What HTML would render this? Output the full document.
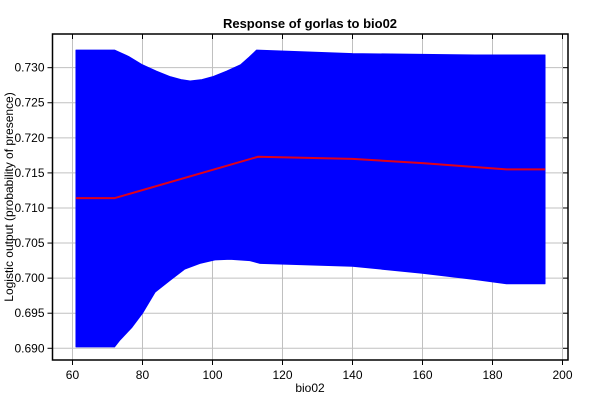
<!DOCTYPE html>
<html><head><meta charset="utf-8"><style>
body{margin:0;background:#fff;}
svg{display:block;font-family:"Liberation Sans",sans-serif;}
</style></head><body>
<svg id="chart" width="600" height="400">
<text x="310" y="28" text-anchor="middle" font-size="13" font-weight="bold">Response of gorlas to bio02</text>
<g id="grid"></g>
<g id="marks"></g>
<g id="axes"></g>
<text x="310" y="392" text-anchor="middle" font-size="12">bio02</text>
<text transform="translate(13,197) rotate(-90)" text-anchor="middle" font-size="12">Logistic output (probability of presence)</text>
</svg>
<script>
const upperX=[61,72,76,80,84,88,91,93.6,97,100,104,108,110.5,112.6,140,160,175,195];
const upperVals=[0.7325,0.7325,0.7316,0.7304,0.7295,0.7287,0.7283,0.7281,0.7283,0.7287,0.7295,0.7304,0.7315,0.7325,0.7320,0.7319,0.7318,0.7318];
const lowerX=[61,72,73.6,77,80,83.6,87.9,92.1,96.4,100.7,105,110.7,113.6,140,160,175,184,195];
const lowerVals=[0.6902,0.6902,0.6912,0.6930,0.6950,0.6980,0.6997,0.7013,0.7021,0.7026,0.7027,0.7025,0.7021,0.7017,0.7007,0.6998,0.6992,0.6992];
const meanX=[61,72,113,140,160,184,195];
const meanVals=[0.7114,0.7114,0.7173,0.7170,0.7164,0.7155,0.7155];
const xTicks=[60,80,100,120,140,160,180,200];
const yTicks=[0.690,0.695,0.700,0.705,0.710,0.715,0.720,0.725,0.730];
const L=52.5,R=568,T=34,B=360;
const xMin=54.29,xMax=201.57,yMin=0.68833,yMax=0.7348;
const sx=v=>L+(v-xMin)/(xMax-xMin)*(R-L);
const sy=v=>B-(v-yMin)/(yMax-yMin)*(B-T);
const NS="http://www.w3.org/2000/svg";
function mk(tag,attrs,parent){const e=document.createElementNS(NS,tag);for(const k in attrs)e.setAttribute(k,attrs[k]);parent.appendChild(e);return e;}
const grid=document.getElementById('grid'),marks=document.getElementById('marks'),axes=document.getElementById('axes');
xTicks.forEach(t=>{
 const x=sx(t);
 const g=mk('line',{x1:x,x2:x,y1:T,y2:B,stroke:'#c0c0c0','stroke-width':1},grid);
 
 
 mk('line',{x1:x,x2:x,y1:B,y2:B+5,stroke:'#000'},axes);
 mk('line',{x1:x,x2:x,y1:T,y2:T+5,stroke:'#000'},axes);
 const tx=mk('text',{x:x,y:B+19,'text-anchor':'middle','font-size':12},axes);
 tx.textContent=t;
 
 
});
yTicks.forEach(t=>{
 const y=sy(t);
 const g=mk('line',{x1:L,x2:R,y1:y,y2:y,stroke:'#c0c0c0','stroke-width':1},grid);
 
 
 mk('line',{x1:L-5,x2:L,y1:y,y2:y,stroke:'#000'},axes);
 mk('line',{x1:R-5,x2:R,y1:y,y2:y,stroke:'#000'},axes);
 const tx=mk('text',{x:L-8,y:y+4,'text-anchor':'end','font-size':12},axes);
 tx.textContent=t.toFixed(3);
 
 
});
let d='';
upperX.forEach((v,i)=>{d+=(i?'L':'M')+sx(v)+','+sy(upperVals[i]);});
for(let i=lowerX.length-1;i>=0;i--)d+='L'+sx(lowerX[i])+','+sy(lowerVals[i]);
const band=mk('path',{d:d+'Z',fill:'#0000ff',stroke:'#0000ff','stroke-width':1,'stroke-linejoin':'round'},marks);


const pts=meanX.map((v,i)=>sx(v)+','+sy(meanVals[i])).join(' ');
const ln=mk('polyline',{points:pts,fill:'none',stroke:'#e0001a','stroke-width':2},marks);


const fr=mk('rect',{x:L,y:T,width:R-L,height:B-T,fill:'none',stroke:'#000','stroke-width':1.5},axes);


</script>
</body></html>
